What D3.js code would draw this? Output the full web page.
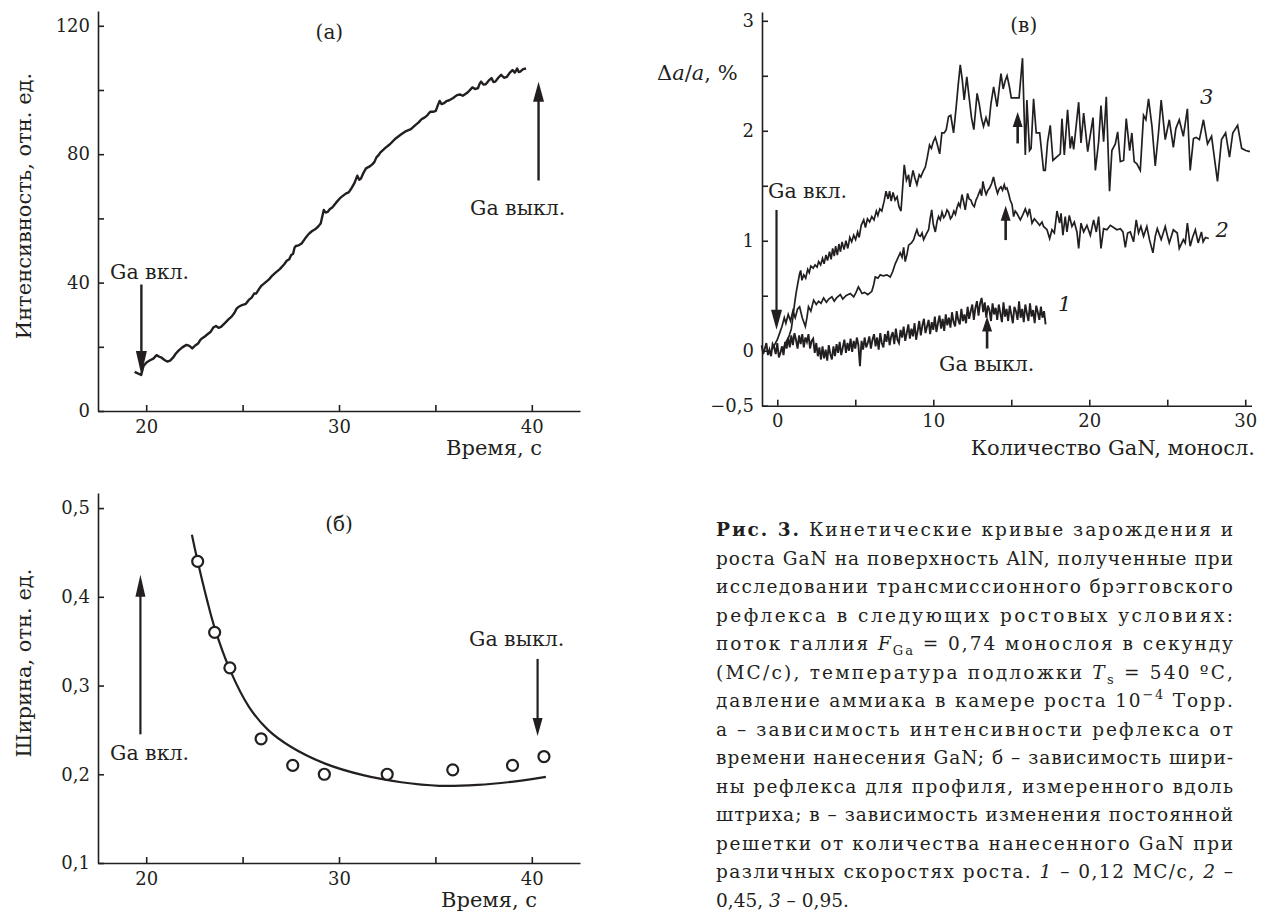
<!DOCTYPE html>
<html><head><meta charset="utf-8">
<script src="https://cdn.jsdelivr.net/npm/d3@7"></script>
<style>
body{margin:0;background:#fff;}
svg{display:block;}
svg text, svg tspan{font-family:'DejaVu Serif', serif;}
</style></head><body>
<svg id="chart" width="1266" height="915"></svg>
<script>
// ---------- DATA ----------
// Panel (a): intensity vs time
const intensityCurve = [[19.40,12.2],[19.74,11.2],[19.86,14.0],[20.03,15.2],[20.20,15.8],[20.37,16.3],[20.54,17.4],[20.68,16.9],[20.80,16.6],[20.95,15.9],[21.09,15.4],[21.24,15.7],[21.39,16.6],[21.54,17.9],[21.69,18.9],[21.89,19.9],[22.09,20.6],[22.24,20.3],[22.39,19.5],[22.54,20.4],[22.69,21.0],[22.80,22.1],[22.89,22.6],[23.04,23.2],[23.18,23.9],[23.33,24.6],[23.48,26.0],[23.62,26.5],[23.75,25.9],[23.88,26.2],[24.08,27.4],[24.28,28.6],[24.43,29.4],[24.58,30.6],[24.68,31.8],[24.78,32.4],[24.97,33.0],[25.17,33.4],[25.32,34.6],[25.47,35.3],[25.60,36.6],[25.71,36.6],[25.84,37.9],[25.97,39.0],[26.17,40.0],[26.37,41.0],[26.54,42.2],[26.71,43.1],[26.93,44.2],[27.16,45.7],[27.29,46.8],[27.42,47.3],[27.52,48.6],[27.62,49.0],[27.69,50.8],[27.76,51.4],[27.91,51.6],[28.06,52.2],[28.24,53.7],[28.42,55.1],[28.59,56.0],[28.76,56.6],[28.91,57.4],[29.05,58.4],[29.13,60.5],[29.21,62.6],[29.31,61.8],[29.41,62.0],[29.53,62.9],[29.65,63.4],[29.85,64.9],[30.05,66.3],[30.20,67.0],[30.35,67.7],[30.50,68.1],[30.65,69.4],[30.80,71.0],[30.95,73.3],[31.05,72.0],[31.14,72.4],[31.27,74.2],[31.40,75.6],[31.57,76.1],[31.74,76.9],[31.84,77.6],[31.94,79.0],[32.04,79.6],[32.14,80.5],[32.39,81.9],[32.64,83.1],[32.94,84.9],[33.23,86.2],[33.48,87.2],[33.73,87.8],[33.93,88.9],[34.13,89.9],[34.28,90.9],[34.43,91.4],[34.58,92.1],[34.73,93.2],[34.88,93.2],[35.02,93.5],[35.12,95.1],[35.22,96.6],[35.32,95.6],[35.42,95.8],[35.57,96.5],[35.72,96.8],[35.92,97.5],[36.12,98.4],[36.27,98.6],[36.42,98.2],[36.67,99.2],[36.92,100.8],[37.06,100.3],[37.21,100.6],[37.29,101.9],[37.37,102.6],[37.49,101.7],[37.61,101.8],[37.76,102.9],[37.91,103.7],[38.01,102.5],[38.11,102.6],[38.26,103.8],[38.41,104.7],[38.56,103.8],[38.71,104.1],[38.85,105.3],[39.00,106.2],[39.12,105.4],[39.24,106.7],[39.32,105.6],[39.40,105.7],[39.55,106.5],[39.70,106.7]];
const aYTicks = [0,20,40,60,80,100,120];
const aYLabels = [0,40,80,120];
const timeTicks = [20,25,30,35,40];
const timeLabels = [20,30,40];

// Panel (b): width vs time
const widthPoints = [[22.67,0.44],[23.55,0.36],[24.34,0.32],[25.96,0.24],[27.6,0.21],[29.24,0.20],[32.5,0.20],[35.9,0.205],[39.0,0.21],[40.63,0.22]];
const widthFit = [[22.37,0.47],[22.67,0.44],[23.16,0.396],[23.55,0.365],[24.34,0.318],[25.33,0.276],[26.32,0.25],[27.5,0.231],[29.28,0.212],[31.25,0.199],[33.23,0.191],[35.2,0.187],[37.18,0.188],[39.15,0.192],[40.73,0.197]];
const bYTicks = [0.1,0.2,0.3,0.4,0.5];

// Panel (c): lattice change vs GaN amount
const curve1Start = -1.0, curve1Step = 0.1;
const curve1 = [
0.05,-0.03,0.02,0.07,-0.04,0.01,-0.05,0.06,0.03,-0.03,
0.07,-0.06,-0.02,0.04,-0.04,0.08,0.02,0.12,0.03,0.14,
0.05,0.16,0.1,0.02,0.14,0.06,0.15,0.03,0.12,0.08,
0.15,0.02,0.09,0.11,-0.02,0.07,-0.05,0.03,-0.08,0.04,
-0.07,0.01,-0.09,0.05,-0.03,-0.08,0.04,-0.05,0.06,-0.02,
0.08,-0.04,0.03,0.1,-0.02,0.07,0.0,0.11,-0.01,0.09,
0.02,0.12,0.05,-0.14,0.09,0.01,0.12,0.03,0.07,0.13,
0.02,0.1,0.15,0.04,0.12,0.01,0.16,0.07,0.03,0.15,
0.08,0.18,0.05,0.13,0.17,0.06,0.2,0.1,0.07,0.19,
0.12,0.22,0.09,0.16,0.24,0.11,0.2,0.13,0.25,0.1,
0.18,0.27,0.14,0.23,0.29,0.16,0.22,0.28,0.15,0.26,
0.19,0.31,0.17,0.25,0.32,0.2,0.29,0.18,0.33,0.23,
0.3,0.21,0.35,0.26,0.22,0.36,0.28,0.24,0.38,0.27,
0.33,0.25,0.4,0.29,0.36,0.42,0.28,0.39,0.45,0.32,
0.43,0.48,0.35,0.44,0.3,0.41,0.37,0.27,0.43,0.33,
0.39,0.28,0.42,0.34,0.26,0.44,0.31,0.38,0.27,0.41,
0.33,0.25,0.4,0.36,0.28,0.45,0.3,0.38,0.26,0.42,
0.34,0.27,0.43,0.31,0.37,0.25,0.41,0.35,0.28,0.4,
0.3,0.36,0.24];
const curve2 = [[-0.3,0.02],[-0.15,0.06],[0.0,0.1],[0.15,0.16],[0.3,0.22],[0.45,0.3],[0.55,0.25],[0.7,0.33],[0.85,0.27],[1.0,0.36],[1.15,0.3],[1.3,0.38],[1.43,0.40],[1.6,0.3],[1.8,0.22],[1.9,0.3],[2.0,0.4],[2.15,0.36],[2.33,0.46],[2.5,0.42],[2.65,0.45],[2.8,0.43],[2.97,0.48],[3.15,0.44],[3.3,0.47],[3.5,0.49],[3.65,0.45],[3.8,0.48],[4.04,0.51],[4.2,0.47],[4.4,0.5],[4.68,0.52],[4.9,0.49],[5.05,0.53],[5.2,0.58],[5.32,0.55],[5.43,0.52],[5.6,0.53],[5.8,0.51],[6.06,0.54],[6.18,0.6],[6.28,0.67],[6.45,0.66],[6.6,0.69],[6.8,0.68],[7.03,0.69],[7.24,0.67],[7.4,0.72],[7.56,0.79],[7.72,0.84],[7.88,0.89],[8.0,0.85],[8.1,0.94],[8.2,0.81],[8.32,0.88],[8.42,0.96],[8.6,0.98],[8.74,1.01],[8.85,1.06],[8.95,1.1],[9.06,1.05],[9.17,1.04],[9.28,1.07],[9.38,1.01],[9.55,1.06],[9.7,1.1],[9.8,1.2],[9.9,1.28],[10.0,1.15],[10.13,1.08],[10.25,1.18],[10.34,1.22],[10.45,1.19],[10.56,1.26],[10.67,1.21],[10.77,1.23],[10.88,1.28],[10.98,1.26],[11.1,1.2],[11.2,1.22],[11.32,1.27],[11.42,1.24],[11.52,1.3],[11.62,1.34],[11.72,1.31],[11.84,1.42],[11.95,1.35],[12.05,1.28],[12.2,1.43],[12.3,1.38],[12.41,1.37],[12.52,1.33],[12.63,1.31],[12.74,1.37],[12.84,1.40],[13.0,1.46],[13.1,1.41],[13.18,1.54],[13.28,1.47],[13.39,1.42],[13.5,1.46],[13.61,1.48],[13.74,1.52],[13.86,1.58],[13.98,1.5],[14.12,1.43],[14.22,1.47],[14.34,1.49],[14.44,1.46],[14.55,1.51],[14.63,1.47],[14.72,1.48],[14.83,1.43],[14.93,1.37],[15.05,1.33],[15.15,1.22],[15.25,1.27],[15.36,1.25],[15.47,1.22],[15.58,1.19],[15.75,1.24],[15.9,1.29],[16.05,1.23],[16.17,1.29],[16.33,1.16],[16.48,1.20],[16.65,1.17],[16.82,1.14],[16.97,1.17],[17.07,1.13],[17.29,1.10],[17.46,1.02],[17.61,1.10],[17.76,1.07],[17.93,1.27],[18.1,1.16],[18.19,1.25],[18.31,1.05],[18.46,1.22],[18.57,1.08],[18.72,1.23],[18.89,1.13],[19.04,1.17],[19.21,1.08],[19.32,0.93],[19.47,1.16],[19.64,1.08],[19.85,1.14],[20.07,1.05],[20.28,1.19],[20.45,1.08],[20.6,1.22],[20.75,0.93],[20.92,1.11],[21.13,1.10],[21.35,1.14],[21.56,1.12],[21.77,1.10],[21.99,1.11],[22.16,1.08],[22.31,0.94],[22.46,1.07],[22.63,1.08],[22.84,0.99],[23.01,1.19],[23.16,1.07],[23.31,1.13],[23.48,1.04],[23.69,1.13],[23.86,1.01],[24.08,0.89],[24.23,1.04],[24.36,1.11],[24.61,1.01],[24.87,1.13],[25.0,1.05],[25.13,0.98],[25.39,1.10],[25.64,1.07],[25.77,0.93],[26.03,1.01],[26.15,0.98],[26.29,1.16],[26.47,0.95],[26.62,1.03],[26.8,1.10],[26.98,0.98],[27.19,1.08],[27.3,0.99],[27.45,1.03],[27.66,1.02]];
const curve3 = [[0.30,0.00],[0.45,0.04],[0.6,0.09],[0.75,0.13],[0.9,0.2],[1.0,0.3],[1.1,0.42],[1.2,0.52],[1.3,0.6],[1.43,0.70],[1.5,0.73],[1.58,0.64],[1.7,0.69],[1.82,0.66],[1.95,0.74],[2.05,0.71],[2.15,0.77],[2.3,0.75],[2.42,0.78],[2.55,0.76],[2.65,0.81],[2.78,0.78],[2.9,0.84],[3.0,0.79],[3.12,0.87],[3.22,0.82],[3.35,0.9],[3.45,0.83],[3.55,0.93],[3.65,0.86],[3.74,0.95],[3.85,0.87],[3.95,0.97],[4.05,0.9],[4.15,0.99],[4.28,0.92],[4.4,1.0],[4.52,0.93],[4.65,1.03],[4.77,0.99],[4.9,1.05],[5.02,1.01],[5.15,1.08],[5.25,1.03],[5.38,1.14],[5.54,1.19],[5.65,1.12],[5.78,1.2],[5.92,1.17],[6.06,1.22],[6.2,1.19],[6.35,1.27],[6.45,1.23],[6.57,1.29],[6.7,1.27],[6.85,1.36],[6.97,1.45],[7.1,1.38],[7.2,1.45],[7.3,1.36],[7.42,1.44],[7.55,1.37],[7.68,1.40],[7.8,1.31],[7.93,1.27],[8.14,1.69],[8.28,1.55],[8.42,1.6],[8.5,1.49],[8.7,1.64],[8.82,1.57],[8.95,1.51],[9.1,1.6],[9.2,1.58],[9.35,1.63],[9.49,1.67],[9.62,1.76],[9.76,1.87],[9.88,1.84],[10.0,1.9],[10.13,1.94],[10.25,1.88],[10.41,1.79],[10.55,1.98],[10.7,1.98],[10.83,2.01],[10.98,2.13],[11.12,2.14],[11.3,1.98],[11.47,2.22],[11.6,2.42],[11.73,2.60],[11.86,2.46],[11.98,2.28],[12.15,2.49],[12.3,2.3],[12.45,2.12],[12.6,2.01],[12.72,2.2],[12.81,2.34],[12.95,2.24],[13.08,2.12],[13.22,2.04],[13.38,2.12],[13.55,2.04],[13.7,2.25],[13.87,2.40],[13.98,2.31],[14.09,2.22],[14.22,2.38],[14.34,2.52],[14.48,2.38],[14.6,2.45],[14.73,2.5],[14.88,2.4],[15.0,2.3],[15.18,2.30],[15.5,2.30],[15.72,2.66],[15.9,1.78],[16.0,2.28],[16.17,1.82],[16.27,1.84],[16.43,2.29],[16.6,1.98],[16.82,1.98],[17.07,1.64],[17.18,1.64],[17.33,1.90],[17.5,2.05],[17.67,1.73],[17.9,1.76],[18.14,1.79],[18.25,2.11],[18.4,1.78],[18.61,2.19],[18.78,1.84],[18.89,1.95],[19.0,1.83],[19.32,2.26],[19.47,1.89],[19.64,2.16],[19.9,1.81],[20.24,2.12],[20.39,1.64],[20.6,1.90],[20.75,2.23],[20.92,1.90],[21.09,2.31],[21.30,1.45],[21.45,1.82],[21.67,1.88],[21.82,1.99],[21.99,1.72],[22.2,1.73],[22.37,2.11],[22.59,1.82],[22.73,1.98],[22.88,1.72],[23.05,1.70],[23.27,1.64],[23.48,2.14],[23.63,2.1],[23.8,2.29],[24.02,2.04],[24.23,1.68],[24.45,2.0],[24.61,2.28],[24.87,1.92],[25.13,2.10],[25.39,1.85],[25.55,2.02],[25.77,2.10],[26.03,1.95],[26.29,2.20],[26.47,1.64],[26.68,1.93],[26.85,1.94],[27.06,1.92],[27.32,2.10],[27.58,1.88],[27.84,1.95],[28.22,1.54],[28.48,1.92],[28.74,1.98],[28.99,1.76],[29.2,1.98],[29.51,2.05],[29.77,1.84],[30.03,1.82],[30.3,1.81]];
const cXTicks = [0,5,10,15,20,25,30];
const cXLabels = [0,10,20,30];
const cYTicks = [-0.5,0,0.5,1,1.5,2,2.5,3];
const cYLabels = [-0.5,0,1,2,3];

// Caption lines
const captionLines = [
 [{t:"Рис. 3.",b:1},{t:" Кинетические кривые зарождения и"}],
 [{t:"роста GaN на поверхность AlN, полученные при"}],
 [{t:"исследовании трансмиссионного брэгговского"}],
 [{t:"рефлекса в следующих ростовых условиях:"}],
 [{t:"поток галлия "},{t:"F",i:1},{t:"Ga",sub:1},{t:" = 0,74 монослоя в секунду"}],
 [{t:"(МС/с), температура подложки "},{t:"T",i:1},{t:"s",sub:1},{t:" = 540 ºС,"}],
 [{t:"давление аммиака в камере роста 10"},{t:"−4",sup:1},{t:" Торр."}],
 [{t:"а – зависимость интенсивности рефлекса от"}],
 [{t:"времени нанесения GaN; б – зависимость шири-"}],
 [{t:"ны рефлекса для профиля, измеренного вдоль"}],
 [{t:"штриха; в – зависимость изменения постоянной"}],
 [{t:"решетки от количества нанесенного GaN при"}],
 [{t:"различных скоростях роста. "},{t:"1",i:1},{t:" – 0,12 МС/с, "},{t:"2",i:1},{t:" –"}],
 [{t:"0,45, "},{t:"3",i:1},{t:" – 0,95."}]
];

// ---------- DRAWING ----------
const INK = "#231f20";
const FONT = "'DejaVu Serif', 'Noto Serif', serif";
const svg = d3.select("#chart");
svg.append("rect").attr("width",1266).attr("height",915).attr("fill","#fff");

const comma = d => (Math.round(d*10)/10 === Math.round(d) ? String(Math.round(d)) : d3.format(".1f")(d)).replace(".", ",").replace("-", "−");

function styleAxis(g, fs) {
  g.attr("font-family", null).attr("font-size", null)
   .style("font-family", FONT).style("font-size", fs + "px");
  g.selectAll("path,line").attr("stroke", INK).attr("stroke-width", 1.6);
  g.selectAll("text").attr("fill", INK).style("font-family", FONT).each(function() {
    const s = this.textContent;
    d3.select(this).text(null).append("tspan").style("font-family", FONT).text(s);
  });
}
function txt(x, y, s, opts={}) {
  const t = svg.append("text").attr("x", x).attr("y", y)
    .style("font-family", FONT).style("font-size", (opts.fs || 19) + "px").attr("fill", INK)
    .attr("text-anchor", opts.anchor || "start");
  if (s) {
    const sp = t.append("tspan").style("font-family", FONT).text(s);
    if (opts.italic) sp.style("font-style","italic");
  }
  return t;
}
function arrow(x, yTail, yTip, hl, hw, sw) {
  const dir = yTip > yTail ? 1 : -1;
  svg.append("line").attr("x1", x).attr("x2", x).attr("y1", yTail).attr("y2", yTip - dir*hl*0.7)
    .attr("stroke", INK).attr("stroke-width", sw);
  svg.append("path").attr("d", `M${x},${yTip} L${x-hw/2},${yTip-dir*hl} L${x+hw/2},${yTip-dir*hl} Z`).attr("fill", INK);
}
const TICK_FS = 18, TITLE_FS = 21, NOTE_FS = 20.5;

// ===== Panel (a) =====
const xA = d3.scaleLinear([17.5, 42.5], [98, 580]);
const yA = d3.scaleLinear([0, 124.6], [411, 11]);
styleAxis(svg.append("g").attr("transform","translate(0,411)")
  .call(d3.axisBottom(xA).tickValues(timeTicks).tickSizeInner(-6).tickSizeOuter(0).tickPadding(9)
  .tickFormat(d => timeLabels.includes(d) ? d : "")), TICK_FS);
styleAxis(svg.append("g").attr("transform","translate(98,0)")
  .call(d3.axisLeft(yA).tickValues(aYTicks).tickSizeInner(-6).tickSizeOuter(0).tickPadding(8)
  .tickFormat(d => aYLabels.includes(d) ? d : "")), TICK_FS);
svg.append("path").datum(intensityCurve)
  .attr("d", d3.line().x(d=>xA(d[0])).y(d=>yA(d[1])))
  .attr("fill","none").attr("stroke",INK).attr("stroke-width",2.4).attr("stroke-linejoin","round");
txt(xA(29.5), 39, "(а)", {fs:20, anchor:"middle"});
txt(542, 455, "Время, с", {fs:TITLE_FS, anchor:"end"});
txt(0,0,"Интенсивность, отн. ед.",{fs:TITLE_FS, anchor:"middle"}).attr("transform","translate(31,206) rotate(-90)");
txt(110, 279, "Ga вкл.", {fs:NOTE_FS});
arrow(xA(19.75), yA(39.4), yA(11.2), 24, 11, 2.4);
txt(470, 215, "Ga выкл.", {fs:NOTE_FS});
arrow(xA(40.35), yA(71.8), yA(102.6), 20, 11, 2.4);

// ===== Panel (b) =====
const xB = d3.scaleLinear([17.5, 42.5], [98, 580]);
const yB = d3.scaleLinear([0.1, 0.517], [863, 493]);
styleAxis(svg.append("g").attr("transform","translate(0,863)")
  .call(d3.axisBottom(xB).tickValues(timeTicks).tickSizeInner(-6).tickSizeOuter(0).tickPadding(9)
  .tickFormat(d => timeLabels.includes(d) ? d : "")), TICK_FS);
styleAxis(svg.append("g").attr("transform","translate(98,0)")
  .call(d3.axisLeft(yB).tickValues(bYTicks).tickSizeInner(-6).tickSizeOuter(0).tickPadding(8)
  .tickFormat(comma)), TICK_FS);
svg.append("path").datum(widthFit)
  .attr("d", d3.line().x(d=>xB(d[0])).y(d=>yB(d[1])).curve(d3.curveCatmullRom.alpha(0.5)))
  .attr("fill","none").attr("stroke",INK).attr("stroke-width",2.2);
svg.selectAll("circle.pt").data(widthPoints).join("circle").attr("class","pt")
  .attr("cx", d=>xB(d[0])).attr("cy", d=>yB(d[1])).attr("r", 5.5)
  .attr("fill","#fff").attr("stroke",INK).attr("stroke-width",2.2);
txt(xB(30.0), 531, "(б)", {fs:20, anchor:"middle"});
txt(537, 907, "Время, с", {fs:TITLE_FS, anchor:"end"});
txt(0,0,"Ширина, отн. ед.",{fs:TITLE_FS, anchor:"middle"}).attr("transform","translate(31,663) rotate(-90)");
txt(110, 760, "Ga вкл.", {fs:NOTE_FS});
arrow(xB(19.7), yB(0.245), yB(0.425), 22, 10, 2.2);
txt(469, 646, "Ga выкл.", {fs:NOTE_FS});
arrow(xB(40.3), yB(0.33), yB(0.243), 18, 10, 2.2);

// ===== Panel (c) =====
const xC = d3.scaleLinear([-0.98, 30.4], [762, 1251.5]);
const yC = d3.scaleLinear([-0.5, 3.08], [405.7, 12]);
styleAxis(svg.append("g").attr("transform","translate(0,405.7)")
  .call(d3.axisBottom(xC).tickValues(cXTicks).tickSizeInner(-6).tickSizeOuter(0).tickPadding(9)
  .tickFormat(d => cXLabels.includes(d) ? d : "")), TICK_FS);
styleAxis(svg.append("g").attr("transform","translate(762,0)")
  .call(d3.axisLeft(yC).tickValues(cYTicks).tickSizeInner(-6).tickSizeOuter(0).tickPadding(8)
  .tickFormat(d => cYLabels.includes(d) ? comma(d) : "")), TICK_FS);
const lineC = d3.line().x(d=>xC(d[0])).y(d=>yC(d[1]));
const curve1Pts = curve1.map((v,i) => [curve1Start + i*curve1Step, v]);
svg.append("path").datum(curve1Pts).attr("d", lineC)
  .attr("fill","none").attr("stroke",INK).attr("stroke-width",1.9);
svg.append("path").datum(curve2).attr("d", lineC)
  .attr("fill","none").attr("stroke",INK).attr("stroke-width",1.7);
svg.append("path").datum(curve3).attr("d", lineC)
  .attr("fill","none").attr("stroke",INK).attr("stroke-width",1.7);

txt(xC(15.8), 32, "(в)", {fs:20, anchor:"middle"});
const dl = txt(657, 80, "", {fs:TITLE_FS});
dl.append("tspan").style("font-family", FONT).text("Δ");
dl.append("tspan").style("font-family", FONT).style("font-style","italic").text("a");
dl.append("tspan").style("font-family", FONT).text("/");
dl.append("tspan").style("font-family", FONT).style("font-style","italic").text("a");
dl.append("tspan").style("font-family", FONT).text(", %");
txt(1255, 455, "Количество GaN, моносл.", {fs:TITLE_FS, anchor:"end"});
txt(xC(18.0), yC(0.36), "1", {fs:21, italic:true});
txt(xC(28.1), yC(1.03), "2", {fs:21, italic:true});
txt(xC(27.1), yC(2.24), "3", {fs:21, italic:true});
txt(768, 198, "Ga вкл.", {fs:NOTE_FS});
arrow(xC(-0.05), yC(1.28), yC(0.19), 20, 11, 2.2);
txt(939, 371, "Ga выкл.", {fs:NOTE_FS});
arrow(xC(13.45), yC(0.02), yC(0.31), 15, 10, 2.6);
arrow(xC(14.64), yC(1.006), yC(1.318), 15, 10, 2.6);
arrow(xC(15.41), yC(1.885), yC(2.17), 15, 10, 2.6);

// ===== Caption =====
const capX = 716, capW = 517, capY0 = 536, capDY = 28.5;
captionLines.forEach((parts, i) => {
  const t = svg.append("text").attr("x", capX).attr("y", capY0 + i*capDY)
    .style("font-family", FONT).style("font-size", "18.5px").attr("fill", INK);
  let shift = 0;
  parts.forEach(p => {
    const s = t.append("tspan").style("font-family", FONT).text(p.t);
    if (p.b) s.style("font-weight","bold");
    if (p.i) s.style("font-style","italic");
    if (p.sub) { s.style("font-size", "13px").attr("dy", 5); shift = 5; }
    else if (p.sup) { s.style("font-size", "13px").attr("dy", -8); shift = -8; }
    else if (shift) { s.attr("dy", -shift); shift = 0; }
  });
  if (i < captionLines.length - 1) t.attr("textLength", capW).attr("lengthAdjust","spacing");
});
</script>
</body></html>
